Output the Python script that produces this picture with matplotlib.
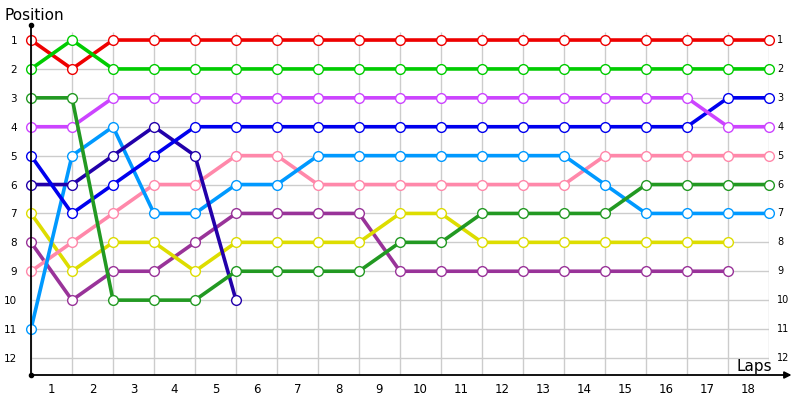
import matplotlib
matplotlib.use("Agg")
import matplotlib.pyplot as plt

# lap positions, one list per car (index 0 = start)
red = [1, 2, 1, 1, 1, 1, 1, 1, 1, 1, 1, 1, 1, 1, 1, 1, 1, 1, 1]
green = [2, 1, 2, 2, 2, 2, 2, 2, 2, 2, 2, 2, 2, 2, 2, 2, 2, 2, 2]
forest = [3, 3, 10, 10, 10, 9, 9, 9, 9, 8, 8, 7, 7, 7, 7, 6, 6, 6, 6]
violet = [4, 4, 3, 3, 3, 3, 3, 3, 3, 3, 3, 3, 3, 3, 3, 3, 3, 4, 4]
blue = [5, 7, 6, 5, 4, 4, 4, 4, 4, 4, 4, 4, 4, 4, 4, 4, 4, 3, 3]
navy = [6, 6, 5, 4, 5, 10]
sky = [11, 5, 4, 7, 7, 6, 6, 5, 5, 5, 5, 5, 5, 5, 6, 7, 7, 7, 7]
pink = [9, 8, 7, 6, 6, 5, 5, 6, 6, 6, 6, 6, 6, 6, 5, 5, 5, 5, 5]
yellow = [7, 9, 8, 8, 9, 8, 8, 8, 8, 7, 7, 8, 8, 8, 8, 8, 8, 8]
purple = [8, 10, 9, 9, 8, 7, 7, 7, 7, 9, 9, 9, 9, 9, 9, 9, 9, 9]

series = [
    (purple, "#993399"),
    (yellow, "#dddd00"),
    (pink, "#ff88aa"),
    (sky, "#0099ff"),
    (navy, "#2200aa"),
    (blue, "#0000ee"),
    (violet, "#cc44ff"),
    (forest, "#229922"),
    (red, "#ee0000"),
    (green, "#00cc00"),
]

lap_labels = [str(i) for i in range(1, 19)]
positions = list(range(1, 13))

fig = plt.figure(figsize=(8, 4), dpi=100)
ax = fig.add_axes([31 / 800, 25 / 400, 738 / 800, 350 / 400])
ybot, ytop = 12.59, 0.48
ax.set_xlim(0, 18)
ax.set_ylim(ybot, ytop)

# grid
ax.hlines(positions, 0, 18, color="#cccccc", lw=1, zorder=0)
ax.vlines(range(19), ybot, 0.72, color="#cccccc", lw=1, zorder=0)

for vals, col in series:
    ax.plot(range(len(vals)), vals, color=col, lw=2.6, marker="o", ms=7,
            mfc="white", mec=col, mew=1.0, zorder=3, clip_on=False)

for s in ax.spines.values():
    s.set_visible(False)

# axes lines
ax.plot([0, 0], [ybot, ytop], color="black", lw=1.3, clip_on=False, zorder=4)
ax.plot([0, 0], [ybot, ytop], "o", color="black", ms=3, clip_on=False, zorder=4)
ax.annotate("", xy=(18.55, ybot), xytext=(0, ybot), xycoords="data",
            arrowprops=dict(arrowstyle="-|>", color="black", lw=1.3,
                            mutation_scale=10, shrinkA=0, shrinkB=0),
            annotation_clip=False)

ax.set_xticks([i + 0.5 for i in range(18)])
ax.set_xticklabels(lap_labels, fontsize=8.5)
ax.set_yticks(positions)
ax.set_yticklabels([str(p) for p in positions], fontsize=7.5)
ax.tick_params(axis="both", length=0)
ax.tick_params(axis="x", pad=6)
ax.tick_params(axis="y", pad=10)

for p in positions:
    ax.text(18.2, p, str(p), fontsize=7, va="center", ha="left")

fig.text(5 / 800, 1 - 15 / 400, "Position", fontsize=11, va="center", ha="left")
ax.text(18.08, 12.3, "Laps", fontsize=11, va="center", ha="right")

fig.savefig("out.png", dpi=100)
